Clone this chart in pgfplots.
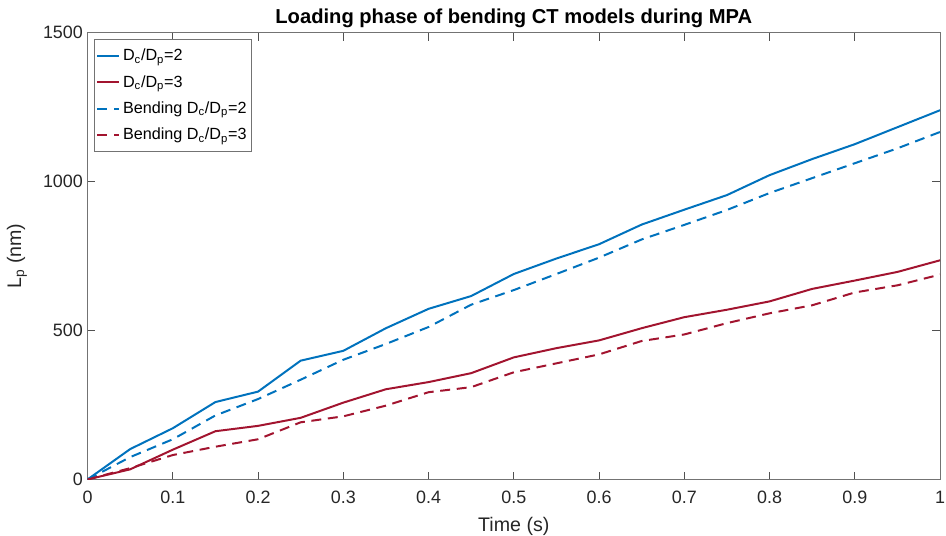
\documentclass[border=0pt]{standalone}
\usepackage{pgfplots}
\pgfplotsset{compat=1.18}
\usepackage{fontspec}
\setmainfont{Liberation Sans}
\definecolor{mblue}{RGB}{0,114,189}
\definecolor{mred}{RGB}{162,20,47}
\definecolor{axgray}{RGB}{38,38,38}
\newcommand{\lf}{\fontsize{12.2}{14}\selectfont}
\begin{document}
\begin{tikzpicture}
\begin{axis}[
  scale only axis,
  width=642.75pt, height=336.75pt,
  xmin=0, xmax=1, ymin=0, ymax=1500,
  enlargelimits=false,
  xtick={0,0.1,0.2,0.3,0.4,0.5,0.6,0.7,0.8,0.9,1},
  xticklabels={0,0.1,0.2,0.3,0.4,0.5,0.6,0.7,0.8,0.9,1},
  ytick={0,500,1000,1500},
  yticklabels={0,500,1000,1500},
  tick align=inside,
  major tick length=6pt,
  tick style={axgray!80, line width=0.5pt},
  axis line style={black!55, line width=0.6pt},
  ticklabel style={font=\fontsize{13.5}{16}\selectfont, text=axgray},
  xticklabel style={yshift=-5.5pt},
  /pgf/number format/assume math mode=true,
  every axis title shift=0pt,
  title={Loading phase of bending CT models during MPA},
  title style={font=\fontsize{15.2}{17}\selectfont\bfseries, at={(axis description cs:0.5,1.02)}, anchor=base},
  xlabel={Time (s)},
  xlabel style={font=\fontsize{14.8}{17}\selectfont, text=axgray, at={(axis description cs:0.5,-0.1158)}, anchor=base},
  ylabel={L\textsubscript{p} (nm)},
  ylabel style={font=\fontsize{14.8}{17}\selectfont, text=axgray, at={(axis description cs:-0.0778,0.5)}, anchor=base, rotate=0},
  legend style={at={(axis description cs:0.007,0.9866)}, anchor=north west,
    font=\lf, nodes={font=\lf}, draw=black!55, line width=0.5pt,
    row sep=5.5pt, inner xsep=2pt, inner ysep=5.5pt},
  legend cell align=left,
  legend image code/.code={\draw[#1] (0pt,0pt) -- (16.5pt,0pt);},
]
\coordinate (sw) at (rel axis cs:0,0);
\coordinate (ne) at (rel axis cs:1,1);
\addplot[mblue, line width=1.5pt] coordinates {
(0,0) (0.05,102) (0.1,172) (0.15,260) (0.2,295) (0.25,399) (0.3,432) (0.35,508)
(0.4,573) (0.45,616) (0.5,690) (0.55,742) (0.6,790) (0.65,856) (0.7,906)
(0.75,955) (0.8,1022) (0.85,1076) (0.9,1126) (0.95,1183) (1,1240)};
\addlegendentry{\lf D\textsubscript{c}/D\textsubscript{p}=2}
\addplot[mred, line width=1.5pt] coordinates {
(0,0) (0.05,34) (0.1,100) (0.15,162) (0.2,180) (0.25,207) (0.3,258) (0.35,303)
(0.4,327) (0.45,357) (0.5,410) (0.55,441) (0.6,467) (0.65,508) (0.7,545)
(0.75,570) (0.8,598) (0.85,640) (0.9,668) (0.95,697) (1,736)};
\addlegendentry{\lf D\textsubscript{c}/D\textsubscript{p}=3}
\addplot[mblue, line width=1.5pt, dash pattern=on 7.5pt off 5pt] coordinates {
(0,0) (0.05,75) (0.1,135) (0.15,215) (0.2,270) (0.25,335) (0.3,402) (0.35,455)
(0.4,512) (0.45,587) (0.5,636) (0.55,690) (0.6,745) (0.65,806) (0.7,855)
(0.75,905) (0.8,962) (0.85,1012) (0.9,1062) (0.95,1112) (1,1167)};
\addlegendentry{\lf Bending D\textsubscript{c}/D\textsubscript{p}=2}
\addplot[mred, line width=1.5pt, dash pattern=on 7.5pt off 5pt] coordinates {
(0,0) (0.05,38) (0.1,82) (0.15,110) (0.2,135) (0.25,192) (0.3,212) (0.35,248)
(0.4,293) (0.45,310) (0.5,360) (0.55,390) (0.6,420) (0.65,465) (0.7,487)
(0.75,525) (0.8,558) (0.85,585) (0.9,628) (0.95,652) (1,688)};
\addlegendentry{\lf Bending D\textsubscript{c}/D\textsubscript{p}=3}
\end{axis}
\pgfresetboundingbox
\path ([shift={(-66pt,-42pt)}]sw) rectangle ([shift={(4.5pt,24.75pt)}]ne);
\end{tikzpicture}
\end{document}
